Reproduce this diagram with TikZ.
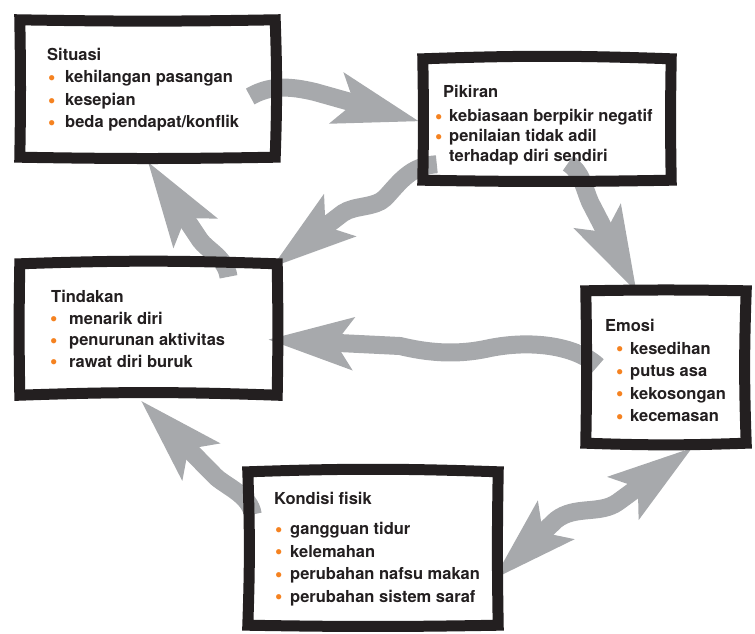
\documentclass[tikz,border=0pt]{standalone}
\usepackage{fontspec}
\setmainfont{TeX Gyre Heros}
\usetikzlibrary{arrows.meta}
\definecolor{ink}{HTML}{231F20}
\definecolor{flowgray}{HTML}{A7A9AC}
\definecolor{dot}{HTML}{F58220}
\newcommand{\itm}[2][15pt]{\makebox[#1][l]{\raisebox{-1.6pt}{\fontsize{21}{21}\selectfont\textcolor{dot}{\textbullet}}}#2}
\newcommand{\sketchbox}[5]{\draw[panelline] (#1.north west) to[bend left=#2] (#1.north east) to[bend left=#3] (#1.south east) to[bend left=#4] (#1.south west) to[bend left=#5] cycle;}
\tikzset{
  panel/.style={rectangle,inner sep=0pt},
  panelline/.style={draw=ink,line width=11pt,line join=miter},
  paneltext/.style={anchor=north west,inner sep=0pt,align=left,text=ink,font=\fontsize{16.5}{22.5}\selectfont\bfseries},
  flow/.style={draw=flowgray,line width=18pt,line join=round},
  >={Stealth[length=84pt,width=50pt,inset=16pt]}
}
\begin{document}
\begin{tikzpicture}[x=1pt,y=-1pt]
\useasboundingbox (0,0) rectangle (755,633);
% panels
\node[panel,minimum width=255pt,minimum height=137pt] (sit) at (147.5,88.5) {};
\node[panel,minimum width=248pt,minimum height=121pt] (pik) at (547,119.5) {};
\node[panel,minimum width=160pt,minimum height=152pt] (emo) at (666,367) {};
\node[panel,minimum width=250pt,minimum height=153pt] (kon) at (373,548.5) {};
\node[panel,minimum width=257pt,minimum height=131pt] (tin) at (148.5,329.5) {};
% arrows
\draw[flow,->] ([shift={(-25,8)}]sit.east) .. controls (270,85) and (290,86) .. (315,92) -- ([shift={(-3,2)}]pik.west);
\draw[flow,->] ([shift={(14,-16)}]pik.south west) .. controls (410,166) and (400,182) .. (385,198) .. controls (375,208) and (355,205) .. (343,213) -- ([shift={(-6,4)}]tin.north east);
\draw[flow,->] ([shift={(21,-17)}]pik.south) .. controls (582,172) and (584,188) .. (590,202) -- ([shift={(-29,2)}]emo.north);
\draw[flow,->] ([shift={(12,-1)}]emo.west) .. controls (575,345) and (530,340) .. (490,348) .. controls (455,356) and (425,352) .. (400,346) -- ([shift={(-10,10)}]tin.east);
\draw[flow,<->] ([shift={(-5,31)}]kon.east) -- (556,520) .. controls (575,505) and (600,515) .. (618,502) -- ([shift={(27,4)}]emo.south);
\draw[flow,->] ([shift={(5,-34)}]kon.west) .. controls (250,495) and (225,486) .. (215,476) -- ([shift={(-8,5)}]tin.south);
\draw[flow,->] ([shift={(80,13)}]tin.north) .. controls (226,258) and (207,250) .. (200,240) -- ([shift={(0,4)}]sit.south);
% frames
\sketchbox{sit}{-1}{2}{1}{-1}
\sketchbox{pik}{2}{-1}{1}{-1}
\sketchbox{emo}{1}{-2}{2}{-1}
\sketchbox{kon}{2}{-1}{1}{-2}
\sketchbox{tin}{2}{1}{-2}{1}
% texts
\node[paneltext] (sit-text) at (48,48) {\hspace*{-1pt}Situasi\\
  \itm[17pt]{kehilangan pasangan}\\
  \itm[17pt]{kesepian}\\
  \itm[17pt]{beda pendapat/konflik}};
\node[paneltext] (pik-text) at (435,85) {\hspace*{8pt}Pikiran\\[1.5pt]
  \itm[14pt]{kebiasaan berpikir negatif}\\[-2.5pt]
  \itm[14pt]{penilaian tidak adil}\\[-2.5pt]
  \hspace*{14pt}terhadap diri sendiri};
\node[paneltext] (emo-text) at (616,319) {\hspace*{-11pt}Emosi\\
  \itm[14pt]{kesedihan}\\
  \itm[14pt]{putus asa}\\
  \itm[14pt]{kekosongan}\\
  \itm[14pt]{kecemasan}};
\node[paneltext] (kon-text) at (275,492) {\hspace*{-1pt}Kondisi fisik\\[7.5pt]
  \itm{gangguan tidur}\\
  \itm{kelemahan}\\
  \itm{perubahan nafsu makan}\\
  \itm{perubahan sistem saraf}};
\node[paneltext] (tin-text) at (50,290) {\hspace*{1pt}Tindakan\\[-1pt]
  \itm[19pt]{menarik diri}\\[-1pt]
  \itm[19pt]{penurunan aktivitas}\\[-1pt]
  \itm[19pt]{rawat diri buruk}};
\end{tikzpicture}
\end{document}
